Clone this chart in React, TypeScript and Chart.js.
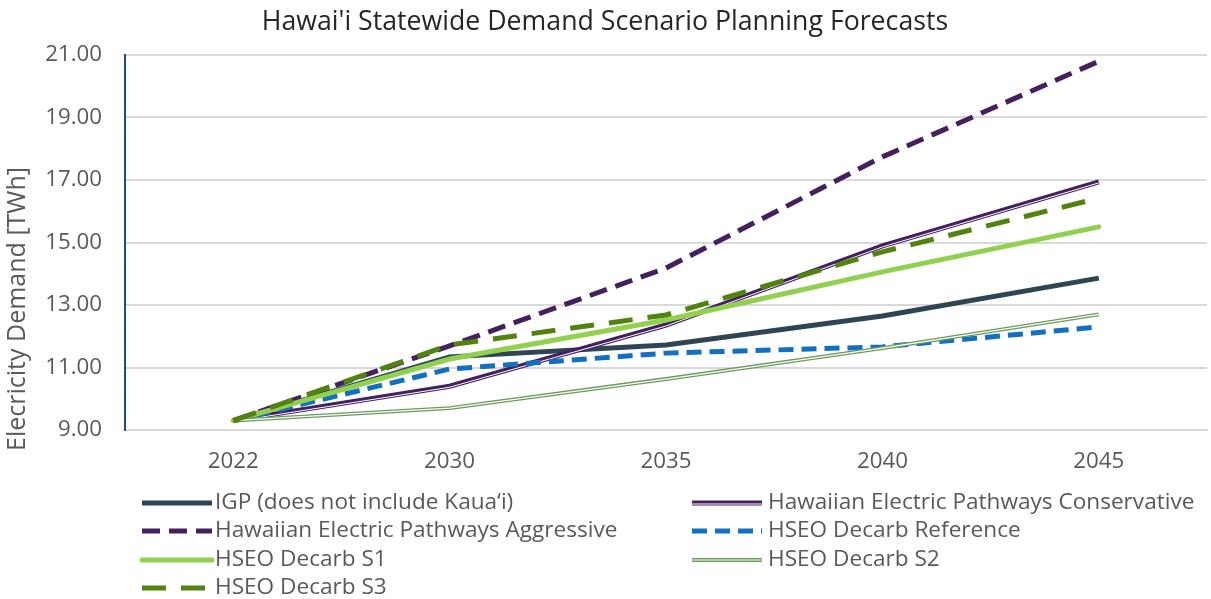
import React, { useEffect, useRef } from "react";
import { Chart, registerables } from "chart.js";
Chart.register(...registerables);

const categories = ["2022", "2030", "2035", "2040", "2045"];
const igp = [9.3, 11.34, 11.72, 12.65, 13.86];
const heConservative = [9.3, 10.4, 12.36, 14.89, 16.94];
const heAggressive = [9.3, 11.69, 14.18, 17.74, 20.8];
const hseoReference = [9.3, 10.95, 11.46, 11.66, 12.3];
const hseoS1 = [9.3, 11.27, 12.52, 14.06, 15.5];
const hseoS2 = [9.3, 9.7, 10.63, 11.62, 12.7];
const hseoS3 = [9.3, 11.72, 12.68, 14.7, 16.42];
const yTicks = [9, 11, 13, 15, 17, 19, 21];

const FONT = "'Open Sans', 'Liberation Sans', sans-serif";
const TXT = "#595959";

const compoundPlugin = {
  id: "compound",
  afterDatasetDraw(chart: any, args: any) {
    const ds = chart.data.datasets[args.index];
    if (!ds.compound) return;
    const meta = chart.getDatasetMeta(args.index);
    const ctx = chart.ctx;
    const a = chart.chartArea;
    ctx.save();
    ctx.beginPath();
    ctx.rect(a.left, a.top - 5, a.right - a.left, a.bottom - a.top + 10);
    ctx.clip();
    ctx.strokeStyle = "#ffffff";
    ctx.lineWidth = ds.compound.w;
    ctx.lineJoin = "round";
    ctx.beginPath();
    meta.data.forEach((p: any, i: number) => {
      if (i === 0) ctx.moveTo(p.x, p.y + ds.compound.off);
      else ctx.lineTo(p.x, p.y + ds.compound.off);
    });
    ctx.stroke();
    ctx.restore();
  },
};

const decorPlugin = {
  id: "decor",
  afterDraw(chart: any) {
    const ctx = chart.ctx;
    ctx.save();
    // title
    ctx.fillStyle = "#262626";
    ctx.font = `26.7px ${FONT}`;
    ctx.textAlign = "center";
    ctx.textBaseline = "middle";
    ctx.fillText("Hawai'i Statewide Demand Scenario Planning Forecasts", 605, 22);
    // y axis title
    ctx.save();
    ctx.translate(18, 309);
    ctx.rotate(-Math.PI / 2);
    ctx.fillStyle = TXT;
    ctx.font = `25px ${FONT}`;
    ctx.fillText("Elecricity Demand [TWh]", 0, 0);
    ctx.restore();
    // legend
    const cols = [
      { sx: 142, ex: 212, tx: 215 },
      { sx: 692, ex: 762, tx: 768 },
    ];
    const rows = [503, 531, 560, 588];
    ctx.font = `22.6px ${FONT}`;
    ctx.textAlign = "left";
    chart.data.datasets.forEach((ds: any, i: number) => {
      const c = cols[i % 2];
      const y = rows[Math.floor(i / 2)];
      ctx.save();
      ctx.strokeStyle = ds.borderColor;
      ctx.lineWidth = ds.borderWidth;
      ctx.setLineDash(ds.borderDash || []);
      ctx.lineCap = ds.borderCapStyle || "butt";
      ctx.beginPath();
      ctx.moveTo(c.sx, y);
      ctx.lineTo(c.ex, y);
      ctx.stroke();
      if (ds.compound) {
        ctx.setLineDash([]);
        ctx.strokeStyle = "#ffffff";
        ctx.lineWidth = ds.compound.w;
        ctx.beginPath();
        ctx.moveTo(c.sx - 2, y + ds.compound.off);
        ctx.lineTo(c.ex + 2, y + ds.compound.off);
        ctx.stroke();
      }
      ctx.restore();
      ctx.fillStyle = TXT;
      ctx.textBaseline = "middle";
      ctx.fillText(ds.label, c.tx, y);
    });
    ctx.restore();
  },
};

export default function App() {
  const ref = useRef<HTMLCanvasElement>(null);
  useEffect(() => {
    const mk = (label: string, data: number[], color: string, width: number, extra: any = {}) => ({
      label,
      data,
      borderColor: color,
      backgroundColor: color,
      borderWidth: width,
      pointRadius: 0,
      tension: 0,
      fill: false,
      ...extra,
    });
    const datasets: any[] = [
      mk("IGP (does not include Kaua\u2018i)", igp, "#2F4554", 5),
      mk("Hawaiian Electric Pathways Conservative", heConservative, "#44205E", 5, { compound: { w: 1, off: 1 } }),
      mk("Hawaiian Electric Pathways Aggressive", heAggressive, "#44205E", 5, { borderDash: [18, 9] }),
      mk("HSEO Decarb Reference", hseoReference, "#1170C0", 5, { borderDash: [15, 8] }),
      mk("HSEO Decarb S1", hseoS1, "#92D050", 5, { borderCapStyle: "round" }),
      mk("HSEO Decarb S2", hseoS2, "#6A9A5C", 4, { compound: { w: 1.2, off: 0 } }),
      mk("HSEO Decarb S3", hseoS3, "#528210", 5, { borderDash: [24, 15] }),
    ];
    const n = datasets.length;
    datasets.forEach((d, i) => (d.order = n - 1 - i));
    const chart = new Chart(ref.current!, {
      type: "line",
      data: { labels: categories, datasets },
      plugins: [compoundPlugin, decorPlugin],
      options: {
        animation: false,
        responsive: false,
        maintainAspectRatio: false,
        layout: { padding: { top: 55, left: 0, right: 4, bottom: 0 } },
        plugins: { legend: { display: false }, title: { display: false }, tooltip: { enabled: false } },
        scales: {
          x: {
            type: "category",
            offset: true,
            grid: { display: false, drawTicks: false },
            border: { display: true, color: "#D9D9D9", width: 2 },
            ticks: { padding: 18, color: TXT, font: { family: FONT, size: 22.3 } },
            afterFit: (s: any) => {
              s.height = 169;
            },
          },
          y: {
            min: 9,
            max: 21,
            afterBuildTicks: (s: any) => {
              s.ticks = yTicks.map((v) => ({ value: v }));
            },
            grid: { color: "#D9D9D9", lineWidth: 2, drawTicks: false },
            border: { display: true, color: "#1F4E79", width: 2 },
            ticks: {
              padding: 23,
              color: TXT,
              font: { family: FONT, size: 22.3 },
              callback: (v: any) => Number(v).toFixed(2),
            },
            title: { display: false },
            afterFit: (s: any) => {
              s.width = 125;
            },
          },
        },
      } as any,
    });
    return () => chart.destroy();
  }, []);
  return (
    <div style={{ position: "fixed", left: 0, top: 0, width: 1211, height: 599, background: "#fff" }}>
      <canvas ref={ref} width={1211} height={599} style={{ width: 1211, height: 599 }} />
    </div>
  );
}
